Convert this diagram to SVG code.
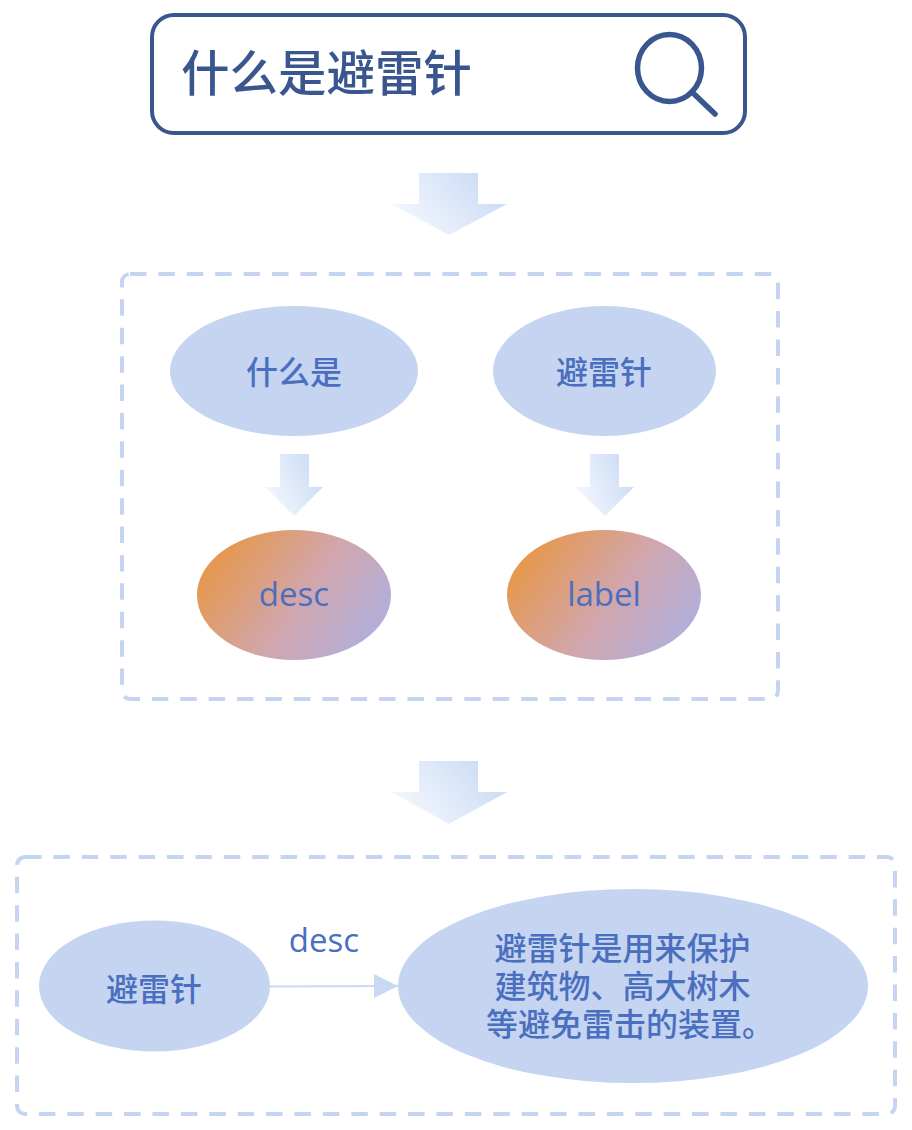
<svg xmlns="http://www.w3.org/2000/svg" width="912" height="1130" viewBox="0 0 912 1130">
<style>
text{font-family:"Noto Sans CJK SC","Open Sans",sans-serif;fill:#4a6fbf;text-anchor:middle;font-size:32px;font-weight:500}
.lat{font-family:"Open Sans","Noto Sans",sans-serif;font-size:33px;font-weight:400}
.frame{fill:none;stroke:#c5d5f1;stroke-width:4;stroke-dasharray:16.500 11.900}
.soft{fill:#c5d5f1}
.grad{fill:url(#og)}
</style>
<defs>
<linearGradient id="ag" x1="0" y1="0.75" x2="1" y2="0.3"><stop offset="0" stop-color="#f6f9fe"/><stop offset="1" stop-color="#c9daf5"/></linearGradient>
<linearGradient id="og" x1="0.06" y1="0.3" x2="0.94" y2="0.72"><stop offset="0" stop-color="#e59850"/><stop offset="0.55" stop-color="#d1a6ae"/><stop offset="1" stop-color="#b3aed9"/></linearGradient>
<marker id="arr" markerUnits="userSpaceOnUse" markerWidth="25" markerHeight="25" refX="24" refY="12" orient="auto"><path d="M0 0L24 12L0 24Z" fill="#c9d9f3"/></marker>
</defs>
<g id="search">
<rect x="152" y="15" width="593" height="118" rx="22" fill="#fff" stroke="#3a568f" stroke-width="4"/>
<text x="326.500" y="91" style="font-size:48.500px;fill:#3a568f">什么是避雷针</text>
<ellipse cx="669.500" cy="68" rx="32" ry="33.500" fill="none" stroke="#3a568f" stroke-width="5.500"/>
<path d="M692 92L715 114" fill="none" stroke="#3a568f" stroke-width="5.500" stroke-linecap="round"/>
</g>
<g id="arrows" fill="url(#ag)">
<path d="M419 173H478V204H507L449 235L391 204H419Z"/>
<path d="M280 454H309V487H323L294 516L265 487H280Z"/>
<path d="M590 454H619V487H634L605 516L575 487H590Z"/>
<path d="M419 761H478V792H507L449 824L391 792H419Z"/>
</g>
<g id="frame-top"><rect x="122" y="274" width="656" height="425" rx="8" class="frame"/></g>
<g id="n-what"><ellipse cx="294" cy="371" rx="124" ry="65" class="soft"/><text x="294" y="384">什么是</text></g>
<g id="n-rod"><ellipse cx="604.500" cy="371" rx="111.500" ry="65" class="soft"/><text x="604" y="384">避雷针</text></g>
<g id="n-desc"><ellipse cx="294" cy="595" rx="97" ry="65" class="grad"/><text x="294" y="606" class="lat">desc</text></g>
<g id="n-label"><ellipse cx="604" cy="595" rx="97" ry="65" class="grad"/><text x="604" y="606" class="lat">label</text></g>
<g id="frame-bottom"><rect x="17" y="857" width="878" height="257" rx="8" class="frame"/></g>
<g id="n-rod2"><ellipse cx="154.500" cy="986" rx="115.500" ry="65.500" class="soft"/><text x="154" y="1001">避雷针</text></g>
<g id="n-def"><ellipse cx="633" cy="986" rx="235" ry="97" class="soft"/>
<text y="960"><tspan x="622.500">避雷针是用来保护</tspan><tspan x="622.500" dy="38">建筑物、高大树木</tspan><tspan x="630" dy="38">等避免雷击的装置。</tspan></text></g>
<g id="connectors"><path d="M270 986.500L398 986" fill="none" stroke="#c9d9f3" stroke-width="2" marker-end="url(#arr)"/></g>
<g id="edge-label"><text x="324" y="952" class="lat">desc</text></g>
</svg>
